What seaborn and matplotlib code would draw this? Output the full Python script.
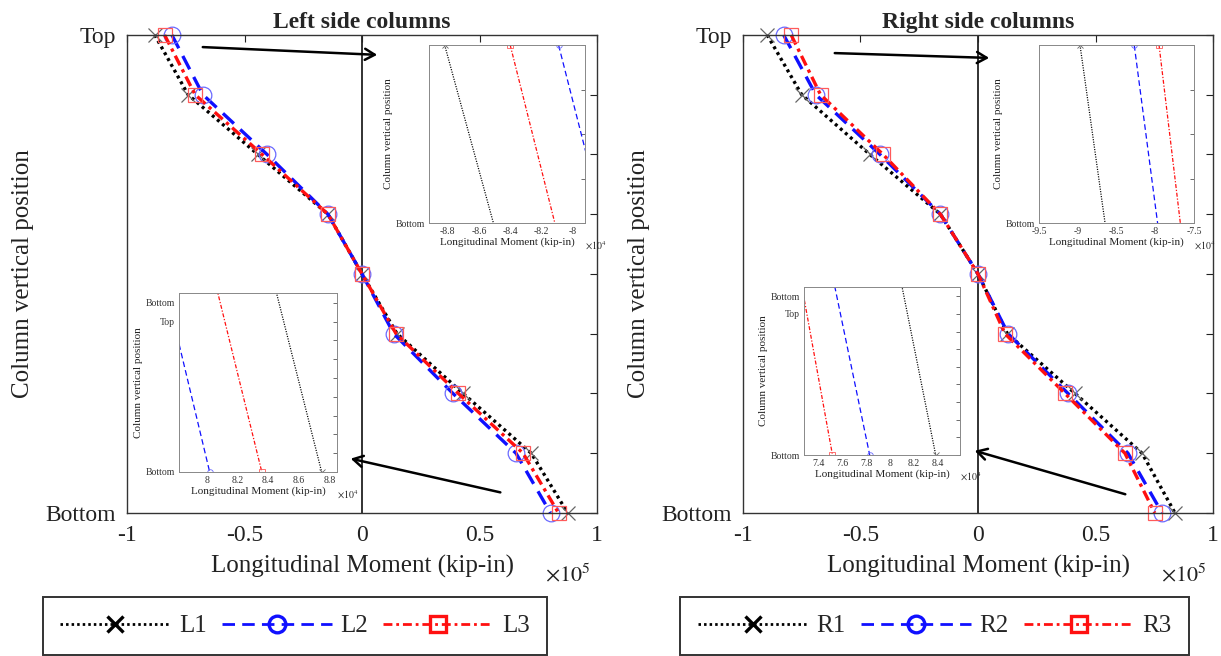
import numpy as np
import pandas as pd
import matplotlib
matplotlib.use("Agg")
import matplotlib.pyplot as plt
from matplotlib.lines import Line2D
import seaborn as sns

# ---------------- data (moments in 1e5 kip-in) ----------------
positions = [0, 1, 2, 3, 4, 5, 6, 7, 8]          # 0 = Top, 8 = Bottom
pos_labels = ["Top", "", "", "", "", "", "", "", "Bottom"]

L1 = [-0.882, -0.740, -0.443, -0.145, 0.0, 0.149, 0.430, 0.720, 0.875]
L2 = [-0.809, -0.677, -0.404, -0.145, 0.0, 0.135, 0.387, 0.655, 0.802]
L3 = [-0.840, -0.710, -0.425, -0.145, 0.0, 0.145, 0.410, 0.685, 0.836]

R1 = [-0.897, -0.750, -0.460, -0.160, 0.0, 0.125, 0.413, 0.698, 0.838]
R2 = [-0.827, -0.690, -0.417, -0.160, 0.0, 0.128, 0.383, 0.638, 0.783]
R3 = [-0.795, -0.670, -0.404, -0.160, 0.0, 0.115, 0.370, 0.625, 0.752]

left_names = ["L1", "L2", "L3"]
right_names = ["R1", "R2", "R3"]
xticks_main = [-1, -0.5, 0, 0.5, 1]

# ---------------- style ----------------
sns.set_theme(style="white")
plt.rcParams["font.family"] = ["Liberation Serif", "DejaVu Serif"]
plt.rcParams["mathtext.fontset"] = "stix"

styles = [
    dict(color="black", linestyle=(0, (0.9, 1.1)), marker="x", mec="#666666", lw_l=2.0),
    dict(color="#1010ff", linestyle=(0, (4.5, 2.6)), marker="o", mec="#6a6aff", lw_l=2.0),
    dict(color="#ff1010", linestyle=(0, (3.2, 1.4, 1.0, 1.4)), marker="s", mec="#ff5a5a", lw_l=2.0),
]
msizes = [10, 12, 9.5]

fig = plt.figure(figsize=(12.21, 6.56), dpi=100)

main_rects = [(0.104, 0.218, 0.385, 0.7287), (0.6085, 0.218, 0.385, 0.7287)]
titles = ["Left side columns", "Right side columns"]
datasets = [[L1, L2, L3], [R1, R2, R3]]

inset_top_rects = [(0.3514, 0.660, 0.1278, 0.2713), (0.8509, 0.660, 0.1269, 0.2713)]
inset_bot_rects = [(0.1466, 0.2805, 0.1294, 0.2729), (0.6585, 0.3064, 0.1278, 0.2560)]
inset_top_xlim = [(-8.92, -7.92), (-9.5, -7.5)]
inset_top_xticks = [[-8.8, -8.6, -8.4, -8.2, -8], [-9.5, -9, -8.5, -8, -7.5]]
inset_bot_xlim = [(7.82, 8.85), (7.283, 8.583)]
inset_bot_xticks = [[8, 8.2, 8.4, 8.6, 8.8], [7.4, 7.6, 7.8, 8, 8.2, 8.4]]
inset_top_range = 0.22
inset_bot_range = [0.19, 0.20]

arrows = [
    [((0.1638, 0.9284), (0.3112, 0.9162)), ((0.4120, 0.2485), (0.2850, 0.3018))],
    [((0.6814, 0.9192), (0.8124, 0.9116)), ((0.9238, 0.2454), (0.7961, 0.3140))],
]


def fmt_tick(v):
    return "%g" % v


def draw_lines(ax, data, names, inset=False):
    for vals, st, ms, nm in zip(data, styles, msizes, names):
        df = pd.DataFrame({"moment": np.array(vals) * (10 if inset else 1), "pos": positions})
        sns.lineplot(data=df, x="moment", y="pos", sort=False, estimator=None, ax=ax,
                     color=st["color"], linestyle=st["linestyle"],
                     lw=(0.9 if inset else 2.4),
                     marker=st["marker"], ms=(4 if inset else ms),
                     mec=st["mec"], mfc="none", mew=(0.6 if inset else 0.9),
                     clip_on=inset, legend=False, label=nm)


for k in range(2):
    ax = fig.add_axes(main_rects[k])
    draw_lines(ax, datasets[k], [left_names, right_names][k])
    ax.axvline(0, color="#222222", lw=1.3, zorder=0)
    ax.set_xlim(-1, 1)
    ax.set_ylim(8, 0)
    ax.set_xticks(xticks_main)
    ax.set_xticklabels([fmt_tick(v) for v in xticks_main])
    ax.set_yticks(positions)
    ax.set_yticklabels(pos_labels)
    ax.tick_params(direction="in", top=True, right=True, length=5, width=0.8,
                   labelsize=17, colors="#222222", pad=9)
    ax.tick_params(axis="y", pad=8)
    for sp in ax.spines.values():
        sp.set_color("#333333")
        sp.set_linewidth(1.0)
    ax.set_xlabel("Longitudinal Moment (kip-in)", fontsize=18, labelpad=6, color="#222222")
    ax.set_ylabel("Column vertical position", fontsize=18, labelpad=8, color="#222222")
    ax.set_title(titles[k], fontsize=17, fontweight="bold", pad=5)
    ax.text(0.89, -0.13, r"$\times10^5$", transform=ax.transAxes, fontsize=16,
            ha="left", va="center", color="#222222")

    # --- top inset ---
    ia = fig.add_axes(inset_top_rects[k])
    draw_lines(ia, datasets[k], [left_names, right_names][k], inset=True)
    ia.set_xlim(*inset_top_xlim[k])
    ia.set_ylim(inset_top_range, 0)
    ia.set_xticks(inset_top_xticks[k])
    ia.set_xticklabels([fmt_tick(v) for v in inset_top_xticks[k]])
    yt = np.linspace(0, inset_top_range, 5)
    ia.set_yticks(yt)
    ia.set_yticklabels(["", "", "", "", "Bottom"])
    # --- bottom inset ---
    ib = fig.add_axes(inset_bot_rects[k])
    draw_lines(ib, datasets[k], [left_names, right_names][k], inset=True)
    ib.set_xlim(*inset_bot_xlim[k])
    r = inset_bot_range[k]
    ib.set_ylim(8, 8 - r)
    ib.set_xticks(inset_bot_xticks[k])
    ib.set_xticklabels([fmt_tick(v) for v in inset_bot_xticks[k]])
    ytb = 8 - r * np.arange(0, 10) * 0.105
    ib.set_yticks(ytb)
    ib.set_yticklabels(["Bottom", "", "", "", "", "", "", "", "Top", "Bottom"])
    for a in (ia, ib):
        a.set_facecolor("white")
        a.tick_params(direction="in", top=False, right=True, length=3, width=0.5,
                      labelsize=7, colors="#333333", pad=3)
        for sp in a.spines.values():
            sp.set_color("#888888")
            sp.set_linewidth(0.7)
        a.set_xlabel("Longitudinal Moment (kip-in)", fontsize=8, labelpad=1, color="#222222")
        a.set_ylabel("Column vertical position", fontsize=8, labelpad=2, color="#222222")
        a.text(1.0, -0.095, r"$\times10^4$", transform=a.transAxes, fontsize=7,
               ha="left", va="top", color="#222222")

    # arrows
    for (x0, y0), (x1, y1) in arrows[k]:
        fig.add_artist(matplotlib.patches.FancyArrowPatch(
            (x0, y0), (x1, y1), transform=fig.transFigure, arrowstyle="->,head_length=7,head_width=4",
            color="black", lw=1.8, mutation_scale=1))

# ---------------- legends ----------------
leg_centers = [(0.2416, 0.0457), (0.7654, 0.0457)]
for k in range(2):
    names = [left_names, right_names][k]
    handles = []
    for st, nm in zip(styles, names):
        handles.append(Line2D([], [], color=st["color"], linestyle=st["linestyle"], lw=st["lw_l"],
                              marker=st["marker"], ms=12, mfc="none", mec=st["color"], mew=2.4))
    leg = fig.legend(handles, names, loc="center", bbox_to_anchor=leg_centers[k], ncol=3,
                     fontsize=18, handlelength=4.4, handletextpad=0.35, columnspacing=0.6,
                     frameon=True, fancybox=False, edgecolor="black", borderpad=0.7,
                     borderaxespad=0, numpoints=1, markerscale=1)
    leg.get_frame().set_linewidth(1.4)

fig.savefig("out.png", dpi=100, facecolor="white")
